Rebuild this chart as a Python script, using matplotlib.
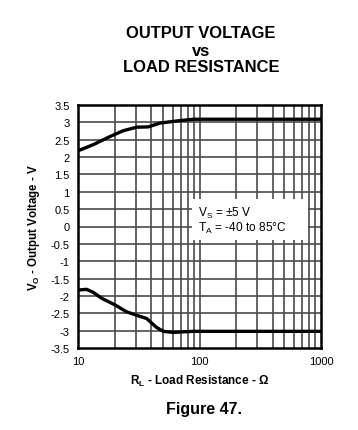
import matplotlib
matplotlib.use("Agg")
import matplotlib.pyplot as plt
from matplotlib.ticker import FixedLocator, NullLocator

plt.rcParams['font.family'] = ['Liberation Sans', 'DejaVu Sans']
plt.rcParams['mathtext.fontset'] = 'custom'
plt.rcParams['mathtext.rm'] = 'Liberation Sans'
plt.rcParams['mathtext.bf'] = 'Liberation Sans:bold'

# Data
r_upper = [10, 13.4, 18.3, 23.6, 30.4, 37.9, 47.3, 69, 89, 200, 500, 1000]
v_upper = [2.18, 2.36, 2.59, 2.76, 2.86, 2.87, 2.98, 3.05, 3.09, 3.09, 3.09, 3.09]
r_lower = [10, 11.8, 13.4, 15.7, 20.2, 25.2, 32.4, 36.7, 44.4, 50.4, 60.9, 89, 200, 500, 1000]
v_lower = [-1.83, -1.81, -1.90, -2.07, -2.26, -2.46, -2.59, -2.65, -2.91, -3.02, -3.05, -3.02, -3.02, -3.02, -3.02]

y_ticks = [3.5, 3, 2.5, 2, 1.5, 1, 0.5, 0, -0.5, -1, -1.5, -2, -2.5, -3, -3.5]
y_ticklabels = ['3.5', '3', '2.5', '2', '1.5', '1', '0.5', '0', '-0.5', '-1', '-1.5', '-2', '-2.5', '-3', '-3.5']
x_ticks = [10, 100, 1000]
x_ticklabels = ['10', '100', '1000']

fig = plt.figure(figsize=(3.58, 4.31), dpi=100)
W, H = 358, 431
ax = fig.add_axes([78 / W, 1 - 349 / H, 243 / W, 243 / H])

ax.set_xscale('log')
ax.set_xlim(10, 1000)
ax.set_ylim(-3.5, 3.5)

minor = [m * 10 ** d for d in (1, 2) for m in range(2, 10)]
for xv in minor:
    ax.axvline(xv, color='#4a4a4a', lw=1.2, zorder=1)
ax.axvline(100, color='#4a4a4a', lw=1.2, zorder=1)
for yv in y_ticks[1:-1]:
    ax.axhline(yv, color='#4a4a4a', lw=1.2, zorder=1)

ax.plot(r_upper, v_upper, color='black', lw=2.4, zorder=3, solid_capstyle='butt')
ax.plot(r_lower, v_lower, color='black', lw=2.4, zorder=3, solid_capstyle='butt')

# white annotation box
ax.fill_between([86.7, 781], [-0.38, -0.38], [0.80, 0.80], color='white', zorder=2, lw=0)
ax.text(97.3, 0.40, r'V$_\mathrm{S}$ = ±5 V', ha='left', va='center', fontsize=8.6, zorder=4)
ax.text(97.3, -0.04, r'T$_\mathrm{A}$ = -40 to 85°C', ha='left', va='center', fontsize=8.6, zorder=4)

ax.set_yticks(y_ticks)
ax.set_yticklabels(y_ticklabels, fontsize=8)
ax.xaxis.set_major_locator(FixedLocator(x_ticks))
ax.xaxis.set_minor_locator(NullLocator())
ax.set_xticklabels(x_ticklabels, fontsize=8)
ax.tick_params(length=0, pad=6)
for s in ax.spines.values():
    s.set_linewidth(1.8)
    s.set_zorder(5)

ax.set_xlabel(r'R$_\mathbf{L}$ - Load Resistance - Ω', fontsize=8.5, fontweight='bold', labelpad=5)
ax.set_ylabel(r'V$_\mathbf{O}$ - Output Voltage - V', fontsize=8.3, fontweight='bold', labelpad=6)

fig.text(201 / W, 1 - 34 / H, 'OUTPUT VOLTAGE', ha='center', va='center', fontsize=11.9, fontweight='bold')
fig.text(201 / W, 1 - 51 / H, 'vs', ha='center', va='center', fontsize=11.9, fontweight='bold')
fig.text(201 / W, 1 - 68 / H, 'LOAD RESISTANCE', ha='center', va='center', fontsize=11.9, fontweight='bold')
fig.text(204 / W, 1 - 410 / H, 'Figure 47.', ha='center', va='center', fontsize=11.5, fontweight='bold')

fig.savefig('out.png', dpi=100)
